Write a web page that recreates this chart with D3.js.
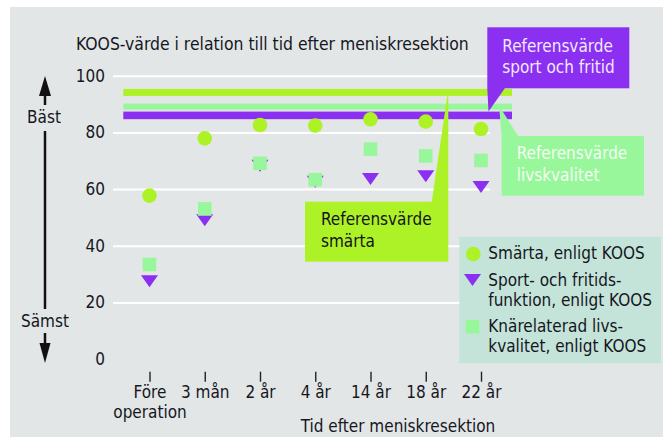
<!DOCTYPE html>
<html>
<head>
<meta charset="utf-8">
<script src="https://cdn.jsdelivr.net/npm/d3@7"></script>
<style>
  body { margin: 0; background: #fff; }
  svg text {
    font-family: "DejaVu Sans Condensed", "DejaVu Sans", sans-serif;
    font-stretch: condensed;
    font-size: 17px;
    fill: #16161e;
  }
</style>
</head>
<body>
<div id="chart"></div>
<script>
// data
var categories = ["Före operation", "3 mån", "2 år", "4 år", "14 år", "18 år", "22 år"];
var smarta = [57.7, 77.9, 82.6, 82.4, 84.6, 83.8, 81.2];
var sport = [27.5, 49, 68.2, 62.6, 63.6, 64.5, 60.7];
var livskvalitet = [33.4, 53, 69.1, 63.3, 74.1, 71.7, 70.1];
var refSmarta = 94.1, refLivskvalitet = 89.1, refSport = 86;
var yTicks = [0, 20, 40, 60, 80, 100];

var W = 663, H = 439;
var lime = "#adf227", mint = "#98f79b", purple = "#8b2ff0";

var svg = d3.select("#chart").append("svg")
    .attr("width", W)
    .attr("height", H);

// panel
svg.append("rect")
    .attr("x", 10).attr("y", 7)
    .attr("width", W - 10).attr("height", 430)
    .attr("fill", "#e3e6e6");

// scales
var x = d3.scalePoint().domain(categories).range([149.5, 481]);
var y = d3.scaleLinear().domain([0, 100]).range([359.2, 75.7]);

// y axis + grid
var yAxis = svg.append("g")
    .attr("transform", "translate(113,0)")
    .call(d3.axisLeft(y).tickValues(yTicks).tickSize(-(490 - 113)).tickPadding(8));
yAxis.select(".domain").remove();
yAxis.selectAll(".tick line")
    .attr("stroke", "#fff")
    .attr("stroke-width", 2)
    .attr("display", function(d) { return d === 0 ? "none" : null; });
yAxis.selectAll(".tick text")
    .attr("x", -8)
    .style("font-size", "17px");
yAxis.attr("font-size", null).attr("font-family", null);

// title
svg.append("text")
    .attr("x", 76).attr("y", 50)
    .style("font-size", "17.4px")
    .text("KOOS-värde i relation till tid efter meniskresektion");

// Bäst / Sämst arrows
var arrowX = 45;
var left = svg.append("g").attr("stroke", "#111").attr("stroke-width", 2.5);
left.append("line").attr("x1", arrowX).attr("x2", arrowX).attr("y1", 92).attr("y2", 105);
left.append("line").attr("x1", arrowX).attr("x2", arrowX).attr("y1", 131).attr("y2", 309);
left.append("line").attr("x1", arrowX).attr("x2", arrowX).attr("y1", 333).attr("y2", 348);
svg.append("path")
    .attr("d", "M" + arrowX + ",76 L" + (arrowX + 6) + ",96 L" + (arrowX - 6) + ",96 Z")
    .attr("fill", "#111");
svg.append("path")
    .attr("d", "M" + arrowX + ",363 L" + (arrowX + 5.5) + ",343 L" + (arrowX - 5.5) + ",343 Z")
    .attr("fill", "#111");
svg.append("text").attr("x", arrowX - 1).attr("y", 123.3)
    .style("text-anchor", "middle").text("Bäst");
svg.append("text").attr("x", arrowX).attr("y", 326.7)
    .style("text-anchor", "middle").text("Sämst");

// x axis
var xAxis = svg.append("g")
    .attr("transform", "translate(0,371.7)")
    .call(d3.axisBottom(x).tickSize(10).tickPadding(4.6));
xAxis.attr("font-size", null).attr("font-family", null);
xAxis.select(".domain").remove();
xAxis.selectAll(".tick line").attr("stroke", "#222").attr("stroke-width", 1.4);
xAxis.selectAll(".tick text").each(function(d) {
  var t = d3.select(this), words = d.split(" ");
  if (d === "Före operation") {
    t.text(null);
    t.append("tspan").attr("x", 0).text(words[0]);
    t.append("tspan").attr("x", 0).attr("dy", "1.18em").text(words[1]);
  }
});

svg.append("text")
    .attr("x", 398).attr("y", 431.7)
    .style("text-anchor", "middle")
    .text("Tid efter meniskresektion");

// reference bands
var bandX0 = 123.3, bandX1 = 512;
var bands = [
  {v: refSmarta, c: lime, h: 7},
  {v: refLivskvalitet, c: mint, h: 6},
  {v: refSport, c: purple, h: 7.6}
];
svg.selectAll(".band").data(bands).enter().append("rect")
    .attr("class", "band")
    .attr("x", bandX0).attr("width", bandX1 - bandX0)
    .attr("y", function(d) { return y(d.v) - d.h / 2; })
    .attr("height", function(d) { return d.h; })
    .attr("fill", function(d) { return d.c; });

// callouts
function callout(box, pointer, fill, textFill, lines, tx, ty) {
  var g = svg.append("g");
  g.append("path")
      .attr("d", "M" + pointer.map(function(p) { return p.join(","); }).join("L") + "Z")
      .attr("fill", fill);
  g.append("rect")
      .attr("x", box[0]).attr("y", box[1])
      .attr("width", box[2] - box[0]).attr("height", box[3] - box[1])
      .attr("fill", fill);
  lines.forEach(function(l, i) {
    g.append("text").attr("x", tx).attr("y", ty + i * 21.5)
        .style("fill", textFill).text(l);
  });
}

var ySport = y(refSport) - 3.8;
callout([487.3, 27.3, 629.3, 88.3], [[487.3, 88], [505, 88], [488.5, ySport]],
        purple, "#f1e9ff", ["Referensvärde", "sport och fritid"], 502.3, 51.7);

var yLiv = y(refLivskvalitet) - 3;
callout([501.7, 136, 644, 195.7], [[501.7, 136.5], [518.3, 136.5], [499, yLiv + 2]],
        mint, "#f4fff4", ["Referensvärde", "livskvalitet"], 516.7, 159.3);

var ySm = y(refSmarta) - 3.5;
callout([305, 201.7, 448.3, 261.7], [[448.3, ySm], [431.7, 202], [448.3, 202]],
        lime, "#15151a", ["Referensvärde", "smärta"], 321, 225);

// points
function tri(cx, cy) {
  return "M" + (cx - 8.5) + "," + (cy - 6) + "L" + (cx + 8.5) + "," + (cy - 6) + "L" + cx + "," + (cy + 6) + "Z";
}

svg.selectAll(".tri").data(sport).enter().append("path")
    .attr("class", "tri")
    .attr("d", function(d, i) { return tri(x(categories[i]), y(d)); })
    .attr("fill", purple);

svg.selectAll(".sq").data(livskvalitet).enter().append("rect")
    .attr("class", "sq")
    .attr("x", function(d, i) { return x(categories[i]) - 6.8; })
    .attr("y", function(d) { return y(d) - 6.8; })
    .attr("width", 13.6).attr("height", 13.6)
    .attr("fill", mint);

svg.selectAll(".dot").data(smarta).enter().append("circle")
    .attr("class", "dot")
    .attr("cx", function(d, i) { return x(categories[i]); })
    .attr("cy", function(d) { return y(d); })
    .attr("r", 7.3)
    .attr("fill", lime);

// legend
var legend = svg.append("g");
legend.append("rect")
    .attr("x", 459.3).attr("y", 236.7)
    .attr("width", 661 - 459.3).attr("height", 363.3 - 236.7)
    .attr("fill", "#c4e4da");
legend.append("circle").attr("cx", 473.3).attr("cy", 254).attr("r", 7.3).attr("fill", lime);
legend.append("path").attr("d", tri(472.5, 280)).attr("fill", purple);
legend.append("rect").attr("x", 472.5 - 6.8).attr("y", 326.7 - 6.8)
    .attr("width", 13.6).attr("height", 13.6).attr("fill", mint);
var legendLines = [
  ["Smärta, enligt KOOS", 259.3],
  ["Sport- och fritids-", 285.7],
  ["funktion, enligt KOOS", 305.7],
  ["Knärelaterad livs-", 332.3],
  ["kvalitet, enligt KOOS", 352.3]
];
legendLines.forEach(function(l) {
  legend.append("text").attr("x", 488.3).attr("y", l[1]).text(l[0]);
});
</script>
</body>
</html>
